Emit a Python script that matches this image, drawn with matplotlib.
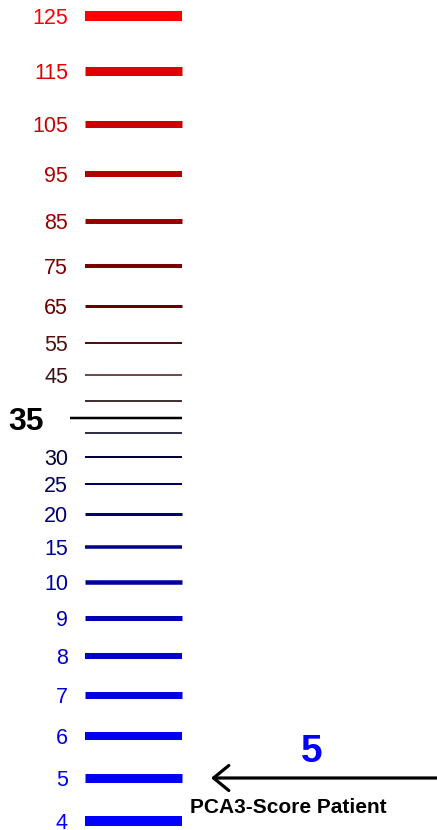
import numpy as np
import matplotlib
matplotlib.use("Agg")
import matplotlib.pyplot as plt
from matplotlib.scale import FuncScale

plt.rcParams['font.family'] = ['Liberation Sans', 'DejaVu Sans']

# scale values, bottom to top
score_values = [4, 5, 6, 7, 8, 9, 10, 15, 20, 25, 30, 33, 35, 40, 45, 55, 65, 75, 85, 95, 105, 115, 125]
score_labels = ['4', '5', '6', '7', '8', '9', '10', '15', '20', '25', '30', '', '35', '', '45',
                '55', '65', '75', '85', '95', '105', '115', '125']
cutoff = 35
patient_score = 5
patient_label = "PCA3-Score Patient"

# the scale of the ruler is not linear: knots value -> pixel row (from top)
knot_vals = [2, 4, 5, 6, 7, 8, 9, 10, 15, 20, 25, 30, 33, 35, 40, 45, 55, 65, 75, 85, 95, 105, 115, 125, 140]
knot_rows = [900, 821, 778, 736, 695, 656, 618, 582, 547, 514, 484, 457, 433, 418, 401, 375, 343,
             306, 266, 221, 174, 124, 71, 16, -60]

# style per tick
bar_px = [10, 9, 8, 7, 6, 5, 4.5, 3.5, 3, 2, 2, 1.6, 2.5, 1.6, 1.5, 2, 3, 4, 5, 6, 7, 9, 10]
bar_colors = ['#0000ff', '#0000f5', '#0000ee', '#0000dd', '#0000cc', '#0000b0', '#00009f', '#000090',
              '#000075', '#00005a', '#000040', '#00001a', '#000000', '#140000', '#3e1212', '#501010',
              '#650000', '#7d0000', '#990000', '#b00000', '#cc0000', '#e00000', '#ff0000']

W, H = 437, 830
DPI = 100
PX = 72.0 / DPI

kv = np.array(knot_vals, dtype=float)
kp = -np.array(knot_rows, dtype=float)


def fwd(v):
    return np.interp(v, kv, kp)


def inv(p):
    return np.interp(p, kp, kv)


fig = plt.figure(figsize=(W / DPI, H / DPI), dpi=DPI)
ax = fig.add_axes([0, 0, 1, 1])
ax.set_yscale(FuncScale(ax, (fwd, inv)))
ax.set_xlim(0, W)
ax.set_ylim(inv(-H), inv(0))
ax.axis('off')

for v, lab, lw, c in zip(score_values, score_labels, bar_px, bar_colors):
    if v == cutoff:
        ax.hlines(v, 70, 182, colors=c, linewidth=lw * PX)
        ax.text(44, v, lab, ha='right', va='center_baseline', fontsize=23, fontweight='bold', color='black')
        continue
    ax.hlines(v, 85, 182, colors=c, linewidth=lw * PX)
    if lab:
        ax.text(68, v, lab, ha='right', va='center_baseline', fontsize=15.5, color=c)

# patient marker
ax.annotate('', xy=(211, patient_score), xytext=(W + 5, patient_score),
            arrowprops=dict(arrowstyle='->,head_length=0.55,head_width=0.45', lw=2.3,
                            color='black', mutation_scale=20, shrinkA=0, shrinkB=0))
ax.text(312, inv(-752), str(patient_score), ha='center', va='center', fontsize=28,
        fontweight='bold', color='#0000ff')
ax.text(190, inv(-807), patient_label, ha='left', va='center', fontsize=15,
        fontweight='bold', color='black')

fig.savefig('out.png', dpi=DPI)
